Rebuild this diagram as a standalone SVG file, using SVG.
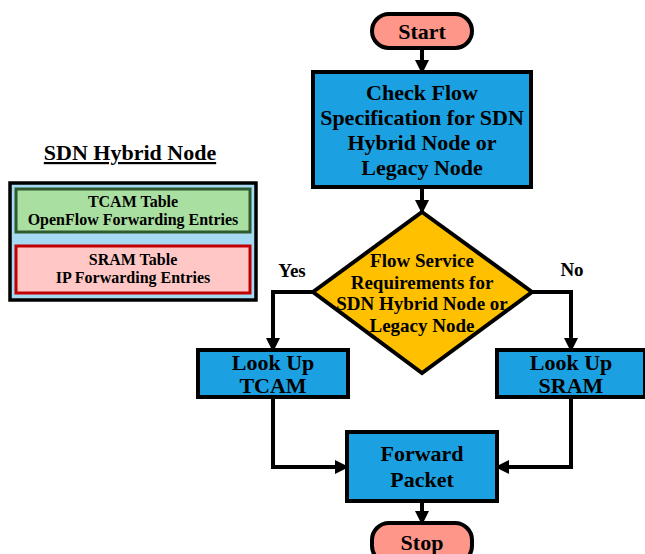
<svg xmlns="http://www.w3.org/2000/svg" width="645" height="554" viewBox="0 0 645 554">
<defs>
<marker id="ah" markerWidth="14" markerHeight="14" refX="12" refY="7" orient="auto" markerUnits="userSpaceOnUse" viewBox="0 0 14 14">
<path d="M0,0 L14,7 L0,14 z" fill="#000"/>
</marker>
<style>
text{font-family:"Liberation Serif","Times New Roman",serif;font-weight:bold;fill:#000;text-anchor:middle}
.proc{fill:#1ba1e2;stroke:#000;stroke-width:4}
.term{fill:#ff968a;stroke:#000;stroke-width:4}
.dec{fill:#ffc000;stroke:#000;stroke-width:4}
.t20{font-size:22px}
.t17{font-size:19px}
.lab{font-size:19px}
.t14{font-size:16px}
.conn{fill:none;stroke:#000;stroke-width:4;marker-end:url(#ah)}
</style>
</defs>
<rect width="645" height="554" fill="#fff"/>

<g id="legend">
<text x="130" y="160" style="font-size:22px;text-decoration:underline">SDN Hybrid Node</text>
<rect x="10" y="183" width="246" height="117" fill="#a6d9f2" stroke="#000" stroke-width="3.5"/>
<rect x="16" y="189" width="234" height="43" fill="#a9dfa0" stroke="#2e5a2e" stroke-width="3"/>
<text class="t14" x="133" y="207">TCAM Table</text>
<text class="t14" x="133" y="225">OpenFlow Forwarding Entries</text>
<rect x="16" y="246" width="234" height="47" fill="#ffc8c6" stroke="#c00000" stroke-width="3"/>
<text class="t14" x="133" y="265">SRAM Table</text>
<text class="t14" x="133" y="283">IP Forwarding Entries</text>
</g>

<g id="connectors">
<line class="conn" x1="422" y1="49" x2="422" y2="72"/>
<line class="conn" x1="422" y1="188" x2="422" y2="212"/>
<polyline class="conn" points="313,292 273,292 273,350"/>
<polyline class="conn" points="532,292 571,292 571,350"/>
<polyline class="conn" points="273,397 273,467 347,467"/>
<polyline class="conn" points="571,397 571,467 497,467"/>
<line class="conn" x1="422" y1="501" x2="422" y2="523"/>
<text class="lab" x="292" y="277">Yes</text>
<text class="lab" x="572" y="276">No</text>
</g>

<g id="start">
<rect class="term" x="372" y="14" width="100" height="34" rx="17"/>
<text class="t20" x="422" y="39">Start</text>
</g>

<g id="check">
<rect class="proc" x="313" y="72" width="218" height="115"/>
<text class="t20" x="422" y="100">Check Flow</text>
<text class="t20" x="422" y="125">Specification for SDN</text>
<text class="t20" x="422" y="150">Hybrid Node or</text>
<text class="t20" x="422" y="175">Legacy Node</text>
</g>

<g id="decision">
<polygon class="dec" points="422,212 532,292 422,373 313,292"/>
<text class="t17" x="422" y="267">Flow Service</text>
<text class="t17" x="422" y="289">Requirements for</text>
<text class="t17" x="422" y="310">SDN Hybrid Node or</text>
<text class="t17" x="422" y="332">Legacy Node</text>
</g>

<g id="tcam">
<rect class="proc" x="198" y="350" width="150" height="47"/>
<text class="t20" x="273" y="370">Look Up</text>
<text class="t20" x="273" y="393">TCAM</text>
</g>

<g id="sram">
<rect class="proc" x="497" y="350" width="148" height="47"/>
<text class="t20" x="571" y="370">Look Up</text>
<text class="t20" x="571" y="393">SRAM</text>
</g>

<g id="forward">
<rect class="proc" x="347" y="432" width="150" height="69"/>
<text class="t20" x="422" y="461">Forward</text>
<text class="t20" x="422" y="487">Packet</text>
</g>

<g id="stop">
<rect class="term" x="372" y="523" width="100" height="40" rx="17"/>
<text class="t20" x="422" y="550">Stop</text>
</g>
</svg>
